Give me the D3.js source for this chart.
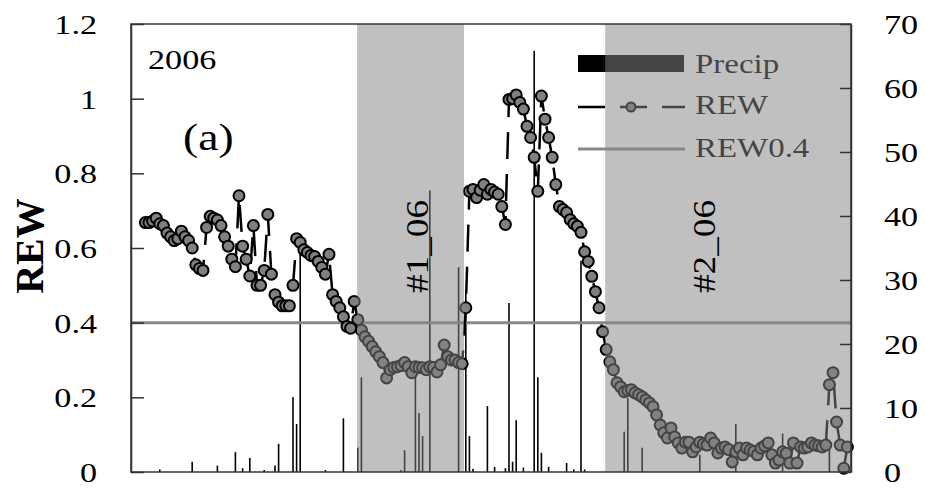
<!DOCTYPE html>
<html>
<head>
<meta charset="utf-8">
<script src="https://cdn.jsdelivr.net/npm/d3@7"></script>
<style>
body { margin: 0; background: #fff; }
text { font-family: "Liberation Serif", "Times New Roman", serif; fill: #000; }
</style>
</head>
<body>
<svg id="chart" width="925" height="491"></svg>
<script>
// REW by day index
const rewDays = [4,5,6,7,8,9,10,11,12,13,14,15,16,17,18,19,20,21,22,23,24,25,26,27,28,29,30,31,32,33,34,35,36,37,38,39,40,41,42,43,44,45,46,47,48,49,50,51,52,53,54,55,56,57,58,59,60,61,62,63,64,65,66,67,68,69,70,71,72,73,74,75,76,77,78,79,80,81,82,83,84,85,86,87,88,89,90,91,92,93,94,95,96,97,98,99,100,101,102,103,104,105,106,107,108,109,110,111,112,113,114,115,116,117,118,119,120,121,122,123,124,125,126,127,128,129,130,131,132,133,134,135,136,137,138,139,140,141,142,143,144,145,146,147,148,149,150,151,152,153,154,155,156,157,158,159,160,161,162,163,164,165,166,167,168,169,170,171,172,173,174,175,176,177,178,179,180,181,182,183,184,185,186,187,188,189,190,191,192,193,194,195,196,197,198,199];
const rewValues = [0.668,0.668,0.672,0.68,0.665,0.66,0.64,0.63,0.62,0.625,0.645,0.63,0.62,0.60,0.555,0.545,0.54,0.655,0.685,0.68,0.675,0.66,0.63,0.605,0.57,0.55,0.74,0.605,0.57,0.525,0.66,0.50,0.50,0.54,0.69,0.53,0.475,0.455,0.445,0.445,0.445,0.50,0.625,0.615,0.595,0.588,0.58,0.577,0.564,0.548,0.53,0.583,0.475,0.457,0.44,0.416,0.39,0.385,0.457,0.408,0.38,0.362,0.35,0.336,0.322,0.309,0.293,0.252,0.274,0.28,0.282,0.285,0.293,0.282,0.266,0.282,0.28,0.279,0.274,0.282,0.28,0.268,0.287,0.34,0.309,0.30,0.30,0.293,0.29,0.44,0.752,0.757,0.735,0.755,0.77,0.744,0.757,0.75,0.744,0.711,0.663,0.998,1.0,1.01,0.99,0.972,0.926,0.896,0.843,0.752,1.007,0.945,0.896,0.843,0.77,0.711,0.703,0.695,0.676,0.665,0.658,0.642,0.59,0.564,0.524,0.483,0.44,0.376,0.328,0.295,0.274,0.239,0.228,0.215,0.218,0.22,0.212,0.207,0.201,0.193,0.185,0.175,0.153,0.126,0.105,0.091,0.118,0.094,0.078,0.064,0.08,0.08,0.054,0.067,0.08,0.075,0.072,0.091,0.078,0.051,0.064,0.067,0.06,0.027,0.054,0.064,0.046,0.064,0.059,0.055,0.046,0.064,0.07,0.078,0.046,0.024,0.032,0.054,0.05,0.024,0.078,0.024,0.067,0.064,0.067,0.078,0.072,0.07,0.067,0.072,0.234,0.266,0.134,0.072,0.01,0.067];

// daily precipitation (mm), right axis
const precipDays = [8,17,24,29,31,33,37,40,41,45,46,47,54,59,63,64,75,76,79,80,81,83,91,93,94,95,99,101,104,105,106,107,109,112,113,114,116,121,123,125,126,137,138,142,158,168,181,194];
const precipValues = [0.4,1.6,1.0,3.1,0.6,2.2,0.3,1.0,4.4,11.7,7.5,35,0.3,8.4,3.8,14.8,0.3,3.4,15,9.2,5.6,44,32,28,5.6,0.5,10.3,0.8,0.6,26.4,1.6,8.1,0.7,65.8,14.8,3.0,0.8,1.4,0.4,33,0.4,6.3,11.6,3.8,2.7,7.5,6,3.9];

const periodStarts = [62.8, 131.7];
const periodEnds = [92.5, 200];
const periodLabels = ["#1_06", "#2_06"];

const leftTicks = [0, 0.2, 0.4, 0.6, 0.8, 1, 1.2];
const rightTicks = [0, 10, 20, 30, 40, 50, 60, 70];
const legendLabels = ["Precip", "REW", "REW0.4"];
const threshold = 0.4;

const svg = d3.select("#chart");
const plotLeft = 131, plotRight = 851, plotTop = 24, plotBottom = 472;
const sx = 1.22; // the figure is stretched sideways

const x = d3.scaleLinear().domain([0, 200]).range([plotLeft, plotRight]);
const y = d3.scaleLinear().domain([0, 1.2]).range([plotBottom, plotTop]);
const yP = d3.scaleLinear().domain([0, 70]).range([plotBottom, plotTop]);

// precip bars
svg.append("g").selectAll("rect")
    .data(precipDays)
    .enter()
    .append("rect")
    .attr("x", d => x(d) - 0.8)
    .attr("width", 1.6)
    .attr("y", (d, i) => yP(precipValues[i]))
    .attr("height", (d, i) => plotBottom - yP(precipValues[i]))
    .attr("fill", "#000");

// REW0.4 line
svg.append("line")
    .attr("x1", plotLeft).attr("x2", plotRight)
    .attr("y1", y(threshold)).attr("y2", y(threshold))
    .attr("stroke", "#888").attr("stroke-width", 3);

// REW dashed line and points
const rew = rewDays.map((d, i) => ({day: d, v: rewValues[i]}));
const line = d3.line().x(d => x(d.day)).y(d => y(d.v));
svg.append("path")
    .datum(rew)
    .attr("d", line)
    .attr("fill", "none")
    .attr("stroke", "#000")
    .attr("stroke-width", 2.5)
    .attr("stroke-dasharray", "27,15");

svg.append("g").selectAll("circle")
    .data(rew)
    .enter()
    .append("circle")
    .attr("cx", d => x(d.day))
    .attr("cy", d => y(d.v))
    .attr("r", 5.5)
    .attr("fill", "#808080")
    .attr("stroke", "#000")
    .attr("stroke-width", 2);

// legend
const lg = svg.append("g");
lg.append("rect").attr("x", 578).attr("y", 55).attr("width", 106).attr("height", 17).attr("fill", "#000");
lg.append("line").attr("x1", 578).attr("x2", 685).attr("y1", 107).attr("y2", 107)
    .attr("stroke", "#000").attr("stroke-width", 2.5).attr("stroke-dasharray", "27,15");
lg.append("circle").attr("cx", 631).attr("cy", 107).attr("r", 4.5)
    .attr("fill", "#808080").attr("stroke", "#000").attr("stroke-width", 2);
lg.append("line").attr("x1", 578).attr("x2", 685).attr("y1", 149).attr("y2", 149)
    .attr("stroke", "#888").attr("stroke-width", 3);
lg.selectAll("text")
    .data(legendLabels)
    .enter()
    .append("text")
    .attr("transform", (d, i) => `translate(695,${[73, 114, 157][i]}) scale(${sx},1)`)
    .attr("font-size", 27)
    .text(d => d);

// shaded periods, half transparent over everything drawn before
svg.append("g").selectAll("rect")
    .data(periodStarts)
    .enter()
    .append("rect")
    .attr("x", d => x(d))
    .attr("width", (d, i) => x(periodEnds[i]) - x(d))
    .attr("y", plotTop)
    .attr("height", plotBottom - plotTop)
    .attr("fill", "rgb(132,132,132)")
    .attr("opacity", 0.514);

svg.append("g").selectAll("text")
    .data(periodLabels)
    .enter()
    .append("text")
    .attr("transform", (d, i) => `translate(${[428, 715][i]},293) rotate(-90) scale(1.2,1)`)
    .attr("font-size", 31)
    .text(d => d);

// axes, ticks point inward
svg.append("g")
    .attr("transform", `translate(${plotLeft},0)`)
    .call(d3.axisLeft(y).tickValues(leftTicks).tickSize(-13).tickSizeOuter(0).tickFormat(""))
    .call(g => g.selectAll("line,path").attr("stroke", "#333").attr("stroke-width", 1.5));
svg.append("g")
    .attr("transform", `translate(${plotRight},0)`)
    .call(d3.axisRight(yP).tickValues(rightTicks).tickSize(-11).tickSizeOuter(0).tickFormat(""))
    .call(g => g.selectAll("line,path").attr("stroke", "#333").attr("stroke-width", 1.5));

svg.append("rect")
    .attr("x", plotLeft).attr("y", plotTop)
    .attr("width", plotRight - plotLeft).attr("height", plotBottom - plotTop)
    .attr("fill", "none").attr("stroke", "#333").attr("stroke-width", 1.5);

svg.append("g").selectAll("text")
    .data(leftTicks)
    .enter()
    .append("text")
    .attr("transform", d => `translate(97,${y(d) + 10}) scale(${sx},1)`)
    .attr("text-anchor", "end")
    .attr("font-size", 28)
    .text(d => String(d));

svg.append("g").selectAll("text")
    .data(rightTicks)
    .enter()
    .append("text")
    .attr("transform", d => `translate(884,${yP(d) + 10}) scale(${sx},1)`)
    .attr("font-size", 28)
    .text(d => String(d));

svg.append("text")
    .attr("transform", "translate(43,246) rotate(-90)")
    .attr("text-anchor", "middle")
    .attr("font-size", 40)
    .attr("font-weight", "bold")
    .text("REW");

svg.append("text")
    .attr("transform", `translate(148,69) scale(${sx},1)`)
    .attr("font-size", 28)
    .text("2006");

svg.append("text")
    .attr("transform", "translate(183,150) scale(1.2,1)")
    .attr("font-size", 38)
    .text("(a)");
</script>
</body>
</html>
